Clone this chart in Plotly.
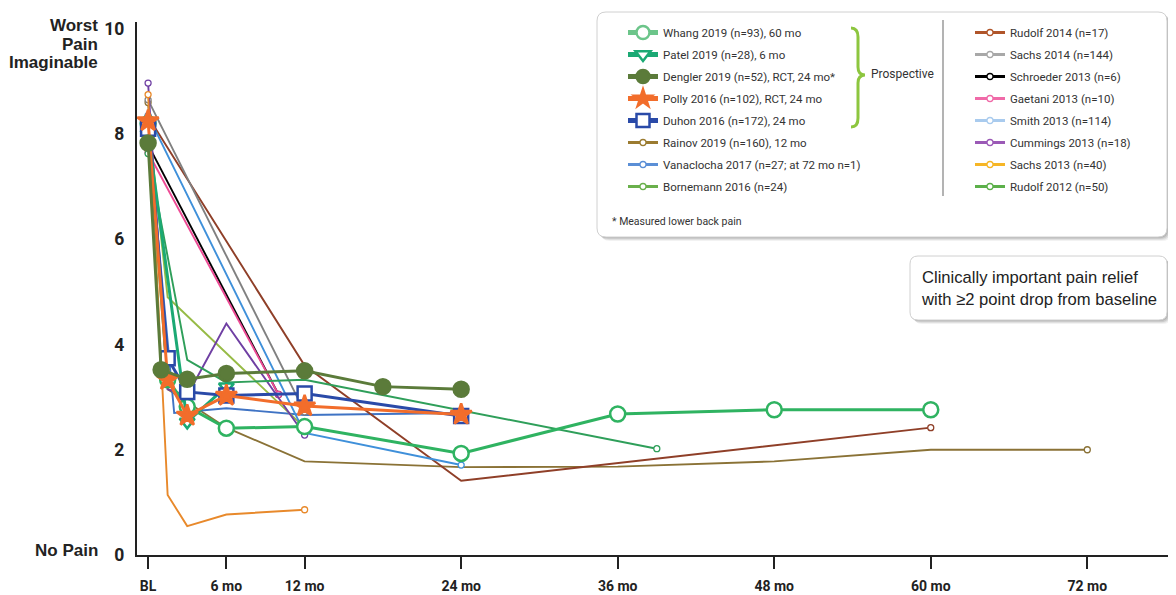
import plotly.graph_objects as go

# ---------------- data (months, mean pain score) ----------------
whang_t = [0, 1.5, 3, 6, 12, 24, 36, 48, 60]
whang_v = [8.2, 3.33, 2.82, 2.41, 2.44, 1.93, 2.68, 2.76, 2.76]
patel_t = [0, 3, 6]
patel_v = [8.0, 2.53, 3.2]
dengler_t = [0, 1, 3, 6, 12, 18, 24]
dengler_v = [7.83, 3.52, 3.34, 3.45, 3.5, 3.2, 3.15]
polly_t = [0, 1.5, 3, 6, 12, 24]
polly_v = [8.25, 3.33, 2.65, 3.03, 2.83, 2.67]
duhon_t = [0, 1.5, 3, 6, 12, 24]
duhon_v = [8.1, 3.74, 3.1, 3.03, 3.07, 2.64]

rainov_t = [0, 1.5, 6, 12, 24, 36, 48, 60, 72]
rainov_v = [8.6, 3.15, 2.42, 1.78, 1.67, 1.68, 1.78, 2.0, 2.0]
vanaclocha_t = [0, 2, 6, 12, 24]
vanaclocha_v = [8.1, 2.7, 2.79, 2.66, 2.7]
bornemann_t = [0, 1.5, 12]
bornemann_v = [8.3, 4.9, 2.42]
rudolf14_t = [0, 12, 24, 60]
rudolf14_v = [8.33, 3.6, 1.41, 2.42]
sachs14_t = [0, 12]
sachs14_v = [8.65, 2.72]
schroeder_t = [0, 10]
schroeder_v = [7.8, 3.05]
gaetani_t = [0, 10]
gaetani_v = [7.65, 3.05]
smith_t = [0, 12, 24]
smith_v = [8.35, 2.32, 1.71]
cummings_t = [0, 1.5, 3, 6, 12]
cummings_v = [8.97, 3.15, 3.03, 4.4, 2.28]
sachs13_t = [0, 1.5, 3, 6, 12]
sachs13_v = [8.75, 1.14, 0.55, 0.77, 0.86]
rudolf12_t = [0, 3, 6, 12, 39]
rudolf12_v = [7.63, 3.71, 3.28, 3.33, 2.02]

tick_vals_x = [0, 6, 12, 24, 36, 48, 60, 72]
tick_text_x = ["BL", "6 mo", "12 mo", "24 mo", "36 mo", "48 mo", "60 mo", "72 mo"]
tick_vals_y = [0, 2, 4, 6, 8, 10]

# ---------------- layout geometry (page has an 8px body margin) ----------------
PAGE_W, PAGE_H, OFF = 1176, 595, 8
W, H = PAGE_W - OFF, PAGE_H - OFF
PL, PR, PT, PB = 137, 1176, 22, 555           # plot area in page pixels
ML, MR, MT, MB = PL - OFF, 0, PT - OFF, (OFF + H) - PB
BOX_R = 1167                                   # right edge of the boxes

NARROW = "Roboto, Liberation Sans, Arial, sans-serif"
SANS = "Liberation Sans, Arial, Helvetica, sans-serif"


def px(x):
    return (x - PL) / (PR - PL)


def py(y):
    return (PB - y) / (PB - PT)


def rrect(x0, y0, x1, y1, r):
    pts = [
        f"M {px(x0 + r)},{py(y0)}",
        f"L {px(x1 - r)},{py(y0)}",
        f"Q {px(x1)},{py(y0)} {px(x1)},{py(y0 + r)}",
        f"L {px(x1)},{py(y1 - r)}",
        f"Q {px(x1)},{py(y1)} {px(x1 - r)},{py(y1)}",
        f"L {px(x0 + r)},{py(y1)}",
        f"Q {px(x0)},{py(y1)} {px(x0)},{py(y1 - r)}",
        f"L {px(x0)},{py(y0 + r)}",
        f"Q {px(x0)},{py(y0)} {px(x0 + r)},{py(y0)}",
        "Z",
    ]
    return " ".join(pts)


fig = go.Figure()

# ---------------- thin series ----------------
thin = [
    ("Rainov 2019 (n=160), 12 mo", rainov_t, rainov_v, "#8a7236", "legend"),
    ("Vanaclocha 2017 (n=27; at 72 mo n=1)", vanaclocha_t, vanaclocha_v, "#3f73c4", "legend"),
    ("Bornemann 2016 (n=24)", bornemann_t, bornemann_v, "#97bb46", "legend"),
    ("Rudolf 2014 (n=17)", rudolf14_t, rudolf14_v, "#8f3f28", "legend2"),
    ("Sachs 2014 (n=144)", sachs14_t, sachs14_v, "#808080", "legend2"),
    ("Schroeder 2013 (n=6)", schroeder_t, schroeder_v, "#000000", "legend2"),
    ("Gaetani 2013 (n=10)", gaetani_t, gaetani_v, "#ee4b95", "legend2"),
    ("Smith 2013 (n=114)", smith_t, smith_v, "#3f90da", "legend2"),
    ("Cummings 2013 (n=18)", cummings_t, cummings_v, "#6f3fa3", "legend2"),
    ("Sachs 2013 (n=40)", sachs13_t, sachs13_v, "#e8892b", "legend2"),
    ("Rudolf 2012 (n=50)", rudolf12_t, rudolf12_v, "#2f9f5a", "legend2"),
]

thin_legend_color = {
    "Rainov 2019 (n=160), 12 mo": "#9b7b30",
    "Vanaclocha 2017 (n=27; at 72 mo n=1)": "#5b8fd6",
    "Bornemann 2016 (n=24)": "#6ab04c",
    "Rudolf 2014 (n=17)": "#b0552a",
    "Sachs 2014 (n=144)": "#a8a8a8",
    "Schroeder 2013 (n=6)": "#000000",
    "Gaetani 2013 (n=10)": "#f06aa8",
    "Smith 2013 (n=114)": "#a9cbee",
    "Cummings 2013 (n=18)": "#9b59b6",
    "Sachs 2013 (n=40)": "#f6b626",
    "Rudolf 2012 (n=50)": "#5cb04a",
}

for name, t, v, col, lg in thin:
    fig.add_trace(go.Scatter(
        x=t, y=v, mode="lines", line=dict(color=col, width=1.9),
        showlegend=False, name=name))
    fig.add_trace(go.Scatter(
        x=[t[0], t[-1]], y=[v[0], v[-1]], mode="markers",
        marker=dict(symbol="circle", size=6, color="white",
                    line=dict(color=col, width=1.3)),
        showlegend=False, hoverinfo="skip"))

# ---------------- thick (prospective) series ----------------
thick = [
    ("Whang 2019 (n=93), 60 mo", whang_t, whang_v, "#2fb361", "circle", 15, "white", "#6cc58a"),
    ("Patel 2019 (n=28), 6 mo", patel_t, patel_v, "#1ba974", "triangle-down", 13, "white", "#1ba974"),
    ("Duhon 2016 (n=172), 24 mo", duhon_t, duhon_v, "#2a4aa8", "square", 14, "white", "#2a4aa8"),
    ("Polly 2016 (n=102), RCT, 24 mo", polly_t, polly_v, "#f26d2b", "star", 16, "#f26d2b", "#f26d2b"),
    ("Dengler 2019 (n=52), RCT, 24 mo*", dengler_t, dengler_v, "#5b7b3a", "circle", 15, "#5b7b3a", "#5b7b3a"),
]
for name, t, v, col, sym, sz, fill, lcol in thick:
    fig.add_trace(go.Scatter(
        x=t, y=v, mode="lines+markers",
        line=dict(color=col, width=3),
        marker=dict(symbol=sym, size=sz, color=fill, line=dict(color=col, width=2.5)),
        showlegend=False, name=name))

# ---------------- legend proxies ----------------
left_order = ["Whang 2019 (n=93), 60 mo", "Patel 2019 (n=28), 6 mo",
              "Dengler 2019 (n=52), RCT, 24 mo*", "Polly 2016 (n=102), RCT, 24 mo",
              "Duhon 2016 (n=172), 24 mo"]
thick_map = {d[0]: d for d in thick}
gi = 0
for nm in left_order:
    name, t, v, col, sym, sz, fill, lcol = thick_map[nm]
    gi += 1
    fig.add_trace(go.Scatter(
        x=[None], y=[None], mode="lines+markers", name=name, legend="legend",
        legendgroup=f"g{gi}",
        line=dict(color=lcol, width=5),
        marker=dict(symbol=sym, size=min(sz, 13), color=fill,
                    line=dict(color=lcol, width=2.5))))
for name, t, v, col, lg in thin:
    gi += 1
    lc = thin_legend_color[name]
    fig.add_trace(go.Scatter(
        x=[None], y=[None], mode="lines+markers", name=name, legend=lg,
        legendgroup=f"g{gi}",
        line=dict(color=lc, width=3),
        marker=dict(symbol="circle", size=6, color="white", line=dict(color=lc, width=1.3))))

# ---------------- shapes ----------------
shapes = []
for off, op in [(4, 0.05), (3, 0.07), (2, 0.09), (1, 0.11)]:
    shapes.append(dict(type="path", xref="paper", yref="paper",
                       path=rrect(597 + off, 12 + off, BOX_R + off, 237 + off, 9),
                       fillcolor=f"rgba(0,0,0,{op})", line=dict(width=0), layer="above"))
shapes.append(dict(type="path", xref="paper", yref="paper",
                   path=rrect(597, 12, BOX_R, 237, 9),
                   fillcolor="white", line=dict(color="#d0d0d0", width=1), layer="above"))
for off, op in [(4, 0.05), (3, 0.07), (2, 0.09), (1, 0.11)]:
    shapes.append(dict(type="path", xref="paper", yref="paper",
                       path=rrect(910 + off, 256 + off, BOX_R + off, 320 + off, 8),
                       fillcolor=f"rgba(0,0,0,{op})", line=dict(width=0), layer="above"))
shapes.append(dict(type="path", xref="paper", yref="paper",
                   path=rrect(910, 256, BOX_R, 320, 8),
                   fillcolor="white", line=dict(color="#d0d0d0", width=1), layer="above"))
shapes.append(dict(type="line", xref="paper", yref="paper",
                   x0=px(943), x1=px(943), y0=py(20), y1=py(196),
                   line=dict(color="#9a9a9a", width=1.5), layer="above"))
bx0, bx1, btip = 851, 858, 865
by0, bym, by1 = 28, 75, 127
brace = (f"M {px(bx0)},{py(by0)} Q {px(bx1)},{py(by0)} {px(bx1)},{py(by0 + 9)} "
         f"L {px(bx1)},{py(bym - 8)} Q {px(bx1)},{py(bym)} {px(btip)},{py(bym)} "
         f"Q {px(bx1)},{py(bym)} {px(bx1)},{py(bym + 8)} "
         f"L {px(bx1)},{py(by1 - 9)} Q {px(bx1)},{py(by1)} {px(bx0)},{py(by1)}")
shapes.append(dict(type="path", xref="paper", yref="paper", path=brace,
                   line=dict(color="#8dc63f", width=3), layer="above"))

annotations = [
    dict(text="Prospective", xref="paper", yref="paper", x=px(869), y=py(74),
         xanchor="left", yanchor="middle", showarrow=False,
         font=dict(family=NARROW, size=12, color="#333")),
    dict(text="* Measured lower back pain", xref="paper", yref="paper", x=px(610), y=py(221),
         xanchor="left", yanchor="middle", showarrow=False,
         font=dict(family=NARROW, size=10.5, color="#333")),
    dict(text="Clinically important pain relief<br>with \u22652 point drop from baseline",
         xref="paper", yref="paper", x=px(919), y=py(288), xanchor="left", yanchor="middle",
         align="left", showarrow=False,
         font=dict(family=SANS, size=16.6, color="#222")),
    dict(text="<b>Worst</b>", xref="paper", yref="paper", x=px(100), y=py(26),
         xanchor="right", yanchor="middle", showarrow=False,
         font=dict(family=SANS, size=17, color="#222")),
    dict(text="<b>Pain</b>", xref="paper", yref="paper", x=px(100), y=py(44),
         xanchor="right", yanchor="middle", showarrow=False,
         font=dict(family=SANS, size=17, color="#222")),
    dict(text="<b>Imaginable</b>", xref="paper", yref="paper", x=px(100), y=py(63),
         xanchor="right", yanchor="middle", showarrow=False,
         font=dict(family=SANS, size=17, color="#222")),
    dict(text="<b>No Pain</b>", xref="paper", yref="paper", x=px(100), y=py(550),
         xanchor="right", yanchor="middle", showarrow=False,
         font=dict(family=SANS, size=17, color="#222")),
]

legend_common = dict(
    xanchor="left", yanchor="top", bgcolor="rgba(0,0,0,0)", borderwidth=0,
    font=dict(family=NARROW, size=11.5, color="#333"), tracegroupgap=3.0,
    orientation="v")

fig.update_layout(
    width=W, height=H,
    margin=dict(l=ML, r=MR, t=MT, b=MB, pad=0),
    paper_bgcolor="white", plot_bgcolor="white",
    showlegend=True,
    legend=dict(x=px(623), y=py(18), **legend_common),
    legend2=dict(x=px(970), y=py(18), **legend_common),
    xaxis=dict(range=[-0.85, 78.8], tickvals=tick_vals_x, ticktext=tick_text_x,
               showline=True, linecolor="#222", linewidth=2.2,
               ticks="outside", ticklen=12, tickwidth=1.5, tickcolor="#222",
               ticklabelstandoff=5,
               showgrid=False, zeroline=False,
               tickfont=dict(family=NARROW, size=14, color="#222", weight="bold")),
    yaxis=dict(range=[0, 10.13], tickvals=tick_vals_y,
               showline=True, linecolor="#222", linewidth=2.2,
               ticks="", ticklabelstandoff=7,
               showgrid=False, zeroline=False,
               tickfont=dict(family=NARROW, size=17.5, color="#222", weight="bold")),
    shapes=shapes,
    annotations=annotations,
)

fig.write_html("out.html")
